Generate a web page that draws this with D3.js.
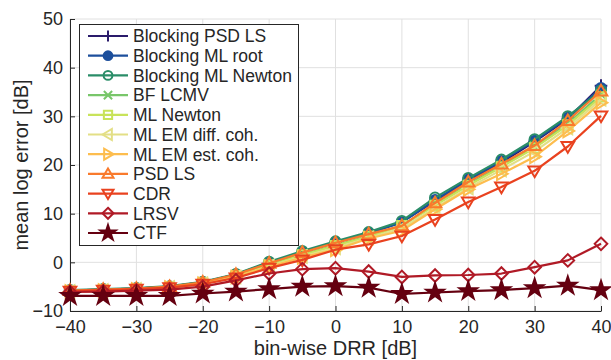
<!DOCTYPE html>
<html><head><meta charset="utf-8">
<script src="https://cdn.jsdelivr.net/npm/d3@7"></script>
<style>body{margin:0;background:#fff}svg{display:block}text{font-family:"Liberation Sans",Arial,sans-serif;fill:#262626}</style>
</head><body>
<script>
const xValues = [-40,-35,-30,-25,-20,-15,-10,-5,0,5,10,15,20,25,30,35,40];
const seriesNames = ["Blocking PSD LS","Blocking ML root","Blocking ML Newton","BF LCMV","ML Newton","ML EM diff. coh.","ML EM est. coh.","PSD LS","CDR","LRSV","CTF"];
const blockingPsdLs   = [-5.8,-5.6,-5.4,-5.0,-4.1,-2.5,-0.1,2.1,4.1,6.0,8.3,12.6,16.8,20.5,24.8,29.5,36.3];
const blockingMlRoot  = [-5.8,-5.6,-5.4,-5.0,-4.1,-2.5,-0.1,2.1,4.1,6.0,8.2,12.8,17.0,20.8,25.0,29.7,35.8];
const blockingMlNewton= [-5.7,-5.5,-5.3,-4.9,-4.0,-2.4,0.1,2.3,4.3,6.2,8.5,13.3,17.3,21.1,25.3,30.0,35.3];
const bfLcmv          = [-5.9,-5.7,-5.5,-5.1,-4.3,-2.8,-0.5,1.6,3.5,5.4,7.6,11.8,16.0,19.8,23.8,28.5,34.5];
const mlNewton        = [-5.9,-5.7,-5.5,-5.1,-4.3,-2.8,-0.6,1.5,3.4,5.3,7.5,11.7,15.8,19.6,23.5,28.2,34.0];
const mlEmDiffCoh     = [-6.0,-5.8,-5.6,-5.2,-4.4,-3.0,-0.8,1.2,3.0,5.0,7.0,11.2,15.3,19.0,22.8,27.6,33.5];
const mlEmEstCoh      = [-6.0,-5.8,-5.6,-5.2,-4.4,-3.0,-0.9,1.0,2.6,4.9,6.5,10.9,15.0,18.2,21.7,27.0,32.8];
const psdLs           = [-5.8,-5.6,-5.4,-5.0,-4.1,-2.5,-0.2,2.0,4.0,5.8,7.5,12.2,16.5,20.2,24.0,29.1,35.2];
const cdr             = [-5.9,-5.7,-5.5,-5.2,-4.5,-3.2,-1.2,0.5,2.6,3.7,5.4,8.8,12.4,15.5,18.8,23.8,30.1];
const lrsv            = [-6.1,-6.0,-5.8,-5.6,-5.0,-3.7,-2.3,-1.4,-1.2,-1.9,-3.0,-2.7,-2.6,-2.3,-1.0,0.4,3.8];
const ctf             = [-6.9,-6.9,-6.9,-6.9,-6.4,-6.0,-5.5,-5.0,-4.9,-5.2,-6.5,-6.2,-5.9,-5.7,-5.3,-4.8,-5.7];
const allValues = [blockingPsdLs,blockingMlRoot,blockingMlNewton,bfLcmv,mlNewton,mlEmDiffCoh,mlEmEstCoh,psdLs,cdr,lrsv,ctf];
const colors = ["#2a1b6b","#1d4f9c","#2a8d68","#78c66a","#c8e35a","#e3df86","#fdbd4e","#f97a2c","#e9421f","#b01a26","#650010"];
const markers = ["plus","dot","circle","x","square","left","right","up","down","diamond","star"];
const xTicks = [-40,-30,-20,-10,0,10,20,30,40];
const yTicks = [-10,0,10,20,30,40,50];

const W=611,H=360;
const svg=d3.select("body").append("svg").attr("width",W).attr("height",H);
const x=d3.scaleLinear().domain([-40,40]).range([70,601]);
const y=d3.scaleLinear().domain([-10,50]).range([311,19]);

// grid
svg.append("g").selectAll("line").data(xTicks).join("line")
  .attr("x1",d=>x(d)).attr("x2",d=>x(d)).attr("y1",y(-10)).attr("y2",y(50))
  .attr("stroke","#e0e0e0").attr("stroke-width",1);
svg.append("g").selectAll("line").data(yTicks).join("line")
  .attr("y1",d=>y(d)).attr("y2",d=>y(d)).attr("x1",x(-40)).attr("x2",x(40))
  .attr("stroke","#e0e0e0").attr("stroke-width",1);

// axes
const gx=svg.append("g").attr("transform",`translate(0,${y(-10)})`)
  .call(d3.axisBottom(x).tickValues(xTicks).tickSizeInner(-5).tickSizeOuter(0).tickPadding(8));
const gy=svg.append("g").attr("transform",`translate(${x(-40)},0)`)
  .call(d3.axisLeft(y).tickValues(yTicks).tickSizeInner(-5).tickSizeOuter(0).tickPadding(7));
[gx,gy].forEach(g=>{
  g.selectAll("path").attr("stroke","#262626").attr("stroke-width",1);
  g.selectAll("line").attr("stroke","#262626");
  g.selectAll("text").attr("font-size",18).attr("font-family","Liberation Sans, Arial, sans-serif").attr("fill","#262626");
});
gx.selectAll("text").attr("y",22).attr("dy",0);

svg.append("text").attr("x",(x(-40)+x(40))/2).attr("y",355).attr("text-anchor","middle")
  .attr("font-size",20).text("bin-wise DRR [dB]");
svg.append("text").attr("transform",`translate(28,${(y(-10)+y(50))/2}) rotate(-90)`)
  .attr("text-anchor","middle").attr("font-size",20).text("mean log error [dB]");

function markerPath(type,r){
  const p=d3.path();
  switch(type){
    case "plus": p.moveTo(-r,0);p.lineTo(r,0);p.moveTo(0,-r);p.lineTo(0,r);break;
    case "x": {const a=r*0.75;p.moveTo(-a,-a);p.lineTo(a,a);p.moveTo(-a,a);p.lineTo(a,-a);break;}
    case "dot": case "circle": p.arc(0,0,r*0.8,0,2*Math.PI);break;
    case "square": {const a=r*0.75;p.rect(-a,-a,2*a,2*a);break;}
    case "up": p.moveTo(0,-r);p.lineTo(r,r*0.7);p.lineTo(-r,r*0.7);p.closePath();break;
    case "down": p.moveTo(0,r);p.lineTo(r,-r*0.7);p.lineTo(-r,-r*0.7);p.closePath();break;
    case "left": p.moveTo(-r,0);p.lineTo(r*0.7,-r);p.lineTo(r*0.7,r);p.closePath();break;
    case "right": p.moveTo(r,0);p.lineTo(-r*0.7,-r);p.lineTo(-r*0.7,r);p.closePath();break;
    case "diamond": p.moveTo(0,-r);p.lineTo(r,0);p.lineTo(0,r);p.lineTo(-r,0);p.closePath();break;
    case "star": return d3.symbol(d3.symbolStar, r*r*2.4)();
  }
  return p.toString();
}
function markerFill(type,color){
  if(type==="dot"||type==="star") return color;
  return "none";
}

const line=d3.line().x((d,i)=>x(xValues[i])).y(d=>y(d));
const plot=svg.append("g");
allValues.forEach((vals,k)=>{
  const g=plot.append("g");
  g.append("path").attr("d",line(vals)).attr("fill","none").attr("stroke",colors[k]).attr("stroke-width",2.2).attr("stroke-linejoin","round");
  g.selectAll("path.m").data(vals).join("path").attr("class","m")
    .attr("transform",(d,i)=>`translate(${x(xValues[i])},${y(d)})`)
    .attr("d",markerPath(markers[k],6.3))
    .attr("fill",markerFill(markers[k],colors[k]))
    .attr("stroke",colors[k]).attr("stroke-width",2);
});

// legend
const lg=svg.append("g");
lg.append("rect").attr("x",79.5).attr("y",24.5).attr("width",219).attr("height",221)
  .attr("fill","#fff").attr("stroke","#262626").attr("stroke-width",1);
seriesNames.forEach((name,k)=>{
  const yy=36+k*19.7;
  lg.append("line").attr("x1",88).attr("x2",128).attr("y1",yy).attr("y2",yy).attr("stroke",colors[k]).attr("stroke-width",2.2);
  lg.append("path").attr("transform",`translate(108,${yy})`).attr("d",markerPath(markers[k],5.5))
    .attr("fill",markerFill(markers[k],colors[k])).attr("stroke",colors[k]).attr("stroke-width",2);
  lg.append("text").attr("x",133).attr("y",yy).attr("dy","0.36em").attr("font-size",17.5).text(name);
});
</script>
</body></html>
